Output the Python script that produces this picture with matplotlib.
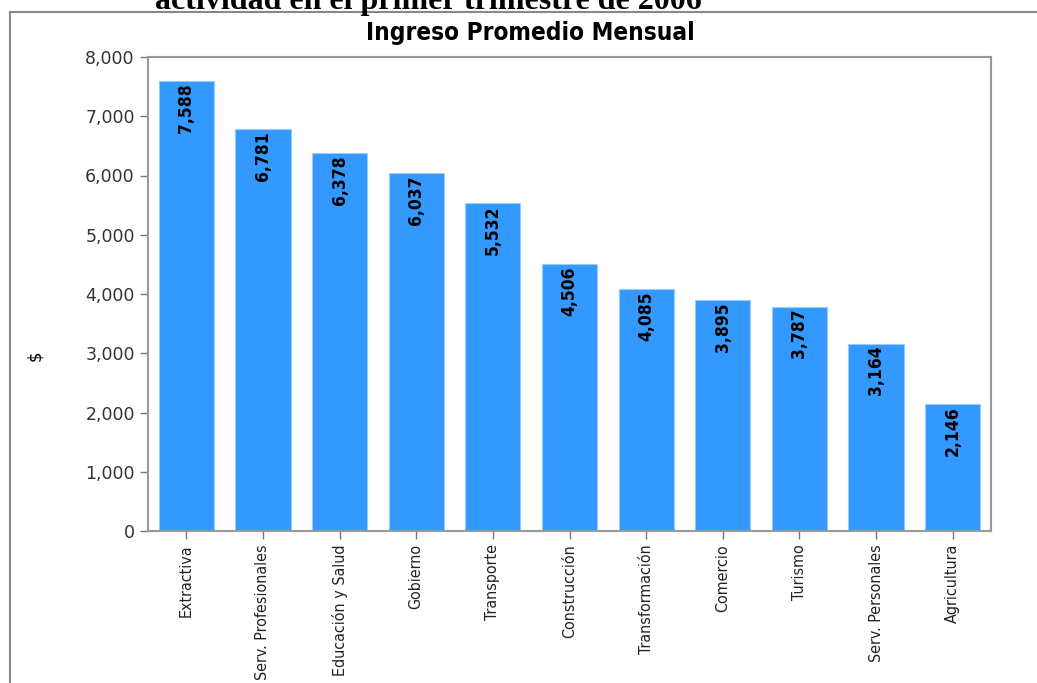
import matplotlib.pyplot as plt
from matplotlib.lines import Line2D
from matplotlib.ticker import FuncFormatter

# Data
categorias = ['Extractiva', 'Serv. Profesionales', 'Educación y Salud', 'Gobierno',
              'Transporte', 'Construcción', 'Transformación', 'Comercio', 'Turismo',
              'Serv. Personales', 'Agricultura']
ingreso = [7588, 6781, 6378, 6037, 5532, 4506, 4085, 3895, 3787, 3164, 2146]

fig = plt.figure(figsize=(10.37, 6.83), dpi=100)
ax = fig.add_axes([148 / 1037, 1 - 531 / 683, (991 - 148) / 1037, (531 - 57) / 683])

x = range(len(categorias))
bars = ax.bar(x, ingreso, width=0.72, color='#3399ff', edgecolor='#99ccff', linewidth=0.8)

# Value labels inside the bars
for b, v in zip(bars, ingreso):
    ax.annotate(f'{v:,}', (b.get_x() + b.get_width() / 2, v), xytext=(0, -1.5),
                textcoords='offset points', rotation=90, ha='center', va='top',
                fontsize=12.5, fontweight='bold', family='DejaVu Sans', fontstretch='condensed',
                color='black')

ax.set_xlim(-0.5, len(categorias) - 0.5)
ax.set_ylim(0, 8000)
ax.set_yticks(range(0, 8001, 1000))
ax.yaxis.set_major_formatter(FuncFormatter(lambda v, p: f'{int(v):,}'))
ax.set_xticks(list(x))
ax.set_xticklabels(categorias, rotation=90, fontsize=11.5, family='DejaVu Sans',
                   fontstretch='condensed')
ax.tick_params(axis='y', labelsize=12.5, colors='#777777', labelcolor='#333333', length=6, width=1)
ax.tick_params(axis='x', colors='#777777', labelcolor='#222222', length=6, width=1)
for s in ax.spines.values():
    s.set_color('#999999')
    s.set_linewidth(1.5)

ax.set_ylabel('$', fontsize=12, labelpad=0)
ax.yaxis.set_label_coords(-104 / 843, 0.37)

# Title
fig.text(530 / 1037, 1 - 33 / 683, 'Ingreso Promedio Mensual', ha='center', va='center',
         fontsize=17.5, fontweight='bold', family='DejaVu Sans', fontstretch='condensed')

# Cut-off heading from the page
fig.text(428 / 1037, 1 - 9 / 683, 'actividad en el primer trimestre de 2006', ha='center',
         va='baseline', fontsize=23, fontweight='bold', family=['Liberation Serif', 'DejaVu Serif'])

# Outer frame
fig.add_artist(Line2D([10 / 1037, 10 / 1037], [0, 1 - 12 / 683], transform=fig.transFigure,
                      color='#888888', linewidth=1.5))
fig.add_artist(Line2D([10 / 1037, 1], [1 - 12 / 683, 1 - 12 / 683], transform=fig.transFigure,
                      color='#888888', linewidth=1.5))

fig.savefig('out.png', dpi=100)
